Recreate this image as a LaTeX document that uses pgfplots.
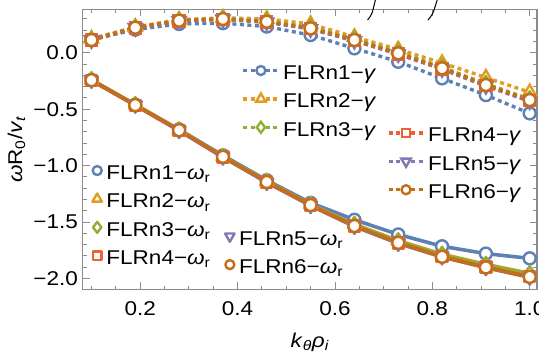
\documentclass[border=0pt]{standalone}
\usepackage{fontspec}
\setmainfont[FakeStretch=1.13]{Liberation Sans}
\usepackage{pgfplots}
\usepackage{pgfplotstable}
\pgfplotsset{compat=1.18}

\definecolor{c1}{rgb}{0.368417,0.506779,0.709798}
\definecolor{c2}{rgb}{0.880722,0.611041,0.142051}
\definecolor{c3}{rgb}{0.560181,0.691569,0.194885}
\definecolor{c4}{rgb}{0.922526,0.385626,0.209179}
\definecolor{c5}{rgb}{0.528488,0.470624,0.701351}
\definecolor{c6}{rgb}{0.772079,0.431554,0.102387}
\definecolor{frame}{rgb}{0.55,0.55,0.55}

\pgfplotstableread{
x g1 g2 g3 g4 g5 g6
0.10 0.115 0.125 0.115 0.113 0.112 0.113
0.19 0.205 0.228 0.225 0.220 0.220 0.222
0.28 0.255 0.292 0.288 0.283 0.282 0.284
0.37 0.262 0.310 0.303 0.297 0.296 0.299
0.46 0.232 0.300 0.282 0.272 0.270 0.275
0.55 0.157 0.255 0.225 0.213 0.210 0.216
0.64 0.039 0.140 0.122 0.108 0.105 0.113
0.73 -0.080 0.030 0.005 -0.010 -0.013 -0.005
0.82 -0.227 -0.090 -0.128 -0.143 -0.146 -0.138
0.91 -0.375 -0.220 -0.275 -0.290 -0.295 -0.286
1.00 -0.537 -0.350 -0.410 -0.425 -0.430 -0.419
}\gam

\pgfplotstableread{
x w1 w2 w3 w4 w5 w6
0.10 -0.240 -0.240 -0.240 -0.245 -0.245 -0.243
0.19 -0.460 -0.460 -0.460 -0.465 -0.465 -0.464
0.28 -0.680 -0.685 -0.685 -0.690 -0.690 -0.686
0.37 -0.910 -0.920 -0.920 -0.925 -0.925 -0.922
0.46 -1.130 -1.140 -1.140 -1.145 -1.150 -1.145
0.55 -1.330 -1.345 -1.345 -1.350 -1.355 -1.350
0.64 -1.480 -1.520 -1.525 -1.535 -1.540 -1.535
0.73 -1.610 -1.665 -1.670 -1.685 -1.690 -1.684
0.82 -1.715 -1.785 -1.790 -1.805 -1.810 -1.808
0.91 -1.780 -1.875 -1.880 -1.900 -1.905 -1.902
1.00 -1.822 -1.955 -1.960 -1.985 -1.990 -1.986
}\om

\newcommand\lstrut{\rule[-5bp]{0pt}{24.4bp}}
\newcommand\bigfont{\fontsize{20}{24}\selectfont}

\pgfplotsset{
  mybase/.style={scale only axis, width=454.3bp, height=280.2bp,
    xmin=0.082, xmax=1.015, ymin=-2.098, ymax=0.385,
    at={(0,0)}, anchor=south west},
  gam/.style={line width=3.4bp, dash pattern=on 4bp off 3.5bp, line cap=butt},
  om/.style={line width=3.6bp, solid, line join=round},
  s1/.style={c1, mark=*, mark size=6bp, mark options={solid, fill=white, line width=2.4bp}},
  s2/.style={c2, mark=triangle*, mark size=7.5bp, mark options={solid, fill=white, line width=2.4bp}},
  s3/.style={c3, mark=diamond*, mark size=7.5bp, mark options={solid, fill=white, line width=2.4bp}},
  s4/.style={c4, mark=square*, mark size=5.5bp, mark options={solid, fill=white, line width=2.4bp}},
  s5/.style={c5, mark=triangle*, mark size=7.5bp, mark options={solid, fill=white, line width=2.4bp, rotate=180}},
  s6/.style={c6, mark=*, mark size=6bp, mark options={solid, fill=white, line width=2.4bp}},
  leg/.style={hide axis,
    legend style={draw=none, fill=none, inner xsep=0pt, inner ysep=0pt,
      row sep=7.5bp, column sep=3bp, nodes={inner sep=0pt},
      cells={anchor=west}, anchor=north west, at={#1}, font=\bigfont}},
  gleg/.style={legend image code/.code={\draw[##1, mark repeat=2, mark phase=2] plot coordinates {(0bp,0bp) (17.5bp,0bp) (35bp,0bp)};}},
  oleg/.style={legend style={column sep=4.5bp}, legend image code/.code={\draw[##1] plot coordinates {(0bp,0bp)};}},
}

\begin{document}
\begin{tikzpicture}
\path[use as bounding box] (-82.7bp,-64.5bp) rectangle (456.3bp,289.5bp);
\begin{axis}[mybase, clip=false,
  axis line style={draw=frame, line width=1.2bp},
  tick style={draw=frame, line width=0.8bp},
  tick align=inside, major tick length=7bp, minor tick length=4bp,
  xtick={0.2,0.4,0.6,0.8,1.0}, xticklabels={0.2,0.4,0.6,0.8,1.0},
  minor xtick={0.1,0.15,0.25,0.3,0.35,0.45,0.5,0.55,0.65,0.7,0.75,0.85,0.9,0.95},
  ytick={-2,-1.5,-1,-0.5,0}, yticklabels={−2.0,−1.5,−1.0,−0.5,0.0},
  minor ytick={-1.9,-1.8,-1.7,-1.6,-1.4,-1.3,-1.2,-1.1,-0.9,-0.8,-0.7,-0.6,-0.4,-0.3,-0.2,-0.1,0.1,0.2,0.3},
  ticklabel style={font=\bigfont},
  xticklabel style={inner sep=0pt, anchor=north, yshift=-11.5bp},
  yticklabel style={inner sep=0pt, anchor=east, xshift=-4.7bp},
  xlabel={\textit{k}\textsubscript{\textit{θ}}\textit{ρ}\textsubscript{\textit{i}}},
  ylabel={\textit{ω}R\textsubscript{0}/\textit{v}\textsubscript{\textit{t}}},
  label style={font=\bigfont},
  xlabel style={at={(axis description cs:0.5,0)}, anchor=base, yshift=-57.5bp},
  ylabel style={at={(axis description cs:-0.1336,0.5)}, anchor=base, rotate=0},
]
\addplot[s1, gam] table[x=x, y=g1] {\gam};
\addplot[s2, gam] table[x=x, y=g2] {\gam};
\addplot[s3, gam] table[x=x, y=g3] {\gam};
\addplot[s4, gam] table[x=x, y=g4] {\gam};
\addplot[s5, gam] table[x=x, y=g5] {\gam};
\addplot[s6, gam] table[x=x, y=g6] {\gam};
\addplot[s1, om] table[x=x, y=w1] {\om};
\addplot[s2, om] table[x=x, y=w2] {\om};
\addplot[s3, om] table[x=x, y=w3] {\om};
\addplot[s4, om] table[x=x, y=w4] {\om};
\addplot[s5, om] table[x=x, y=w5] {\om};
\addplot[s6, om] table[x=x, y=w6] {\om};
\addplot[black, line width=1bp, smooth] coordinates {(0.667,0.29) (0.676,0.35) (0.683,0.467)};
\addplot[black, line width=1bp, smooth] coordinates {(0.791,0.29) (0.801,0.35) (0.810,0.467)};
\end{axis}

\begin{axis}[mybase, leg={(0.3495,0.8194)}, gleg]
\addlegendimage{s1, gam, mark size=4.5bp}
\addlegendentry{\lstrut FLRn1−\textit{γ}}
\addlegendimage{s2, gam, mark size=5.5bp}
\addlegendentry{\lstrut FLRn2−\textit{γ}}
\addlegendimage{s3, gam, mark size=5.5bp}
\addlegendentry{\lstrut FLRn3−\textit{γ}}
\end{axis}

\begin{axis}[mybase, leg={(0.669,0.5967)}, gleg]
\addlegendimage{s4, gam, mark size=4.2bp}
\addlegendentry{\lstrut FLRn4−\textit{γ}}
\addlegendimage{s5, gam, mark size=5.5bp}
\addlegendentry{\lstrut FLRn5−\textit{γ}}
\addlegendimage{s6, gam, mark size=4.5bp}
\addlegendentry{\lstrut FLRn6−\textit{γ}}
\end{axis}

\begin{axis}[mybase, leg={(0.021,0.4625)}, oleg]
\addlegendimage{s1, om, mark size=4.5bp}
\addlegendentry{\lstrut FLRn1−\textit{ω}\textsubscript{r}}
\addlegendimage{s2, om, mark size=5.5bp}
\addlegendentry{\lstrut FLRn2−\textit{ω}\textsubscript{r}}
\addlegendimage{s3, om, mark size=5.5bp}
\addlegendentry{\lstrut FLRn3−\textit{ω}\textsubscript{r}}
\addlegendimage{s4, om, mark size=4.2bp}
\addlegendentry{\lstrut FLRn4−\textit{ω}\textsubscript{r}}
\end{axis}

\begin{axis}[mybase, leg={(0.313,0.228)}, oleg]
\addlegendimage{s5, om, mark size=5.5bp}
\addlegendentry{\lstrut FLRn5−\textit{ω}\textsubscript{r}}
\addlegendimage{s6, om, mark size=4.5bp}
\addlegendentry{\lstrut FLRn6−\textit{ω}\textsubscript{r}}
\end{axis}
\end{tikzpicture}
\end{document}
